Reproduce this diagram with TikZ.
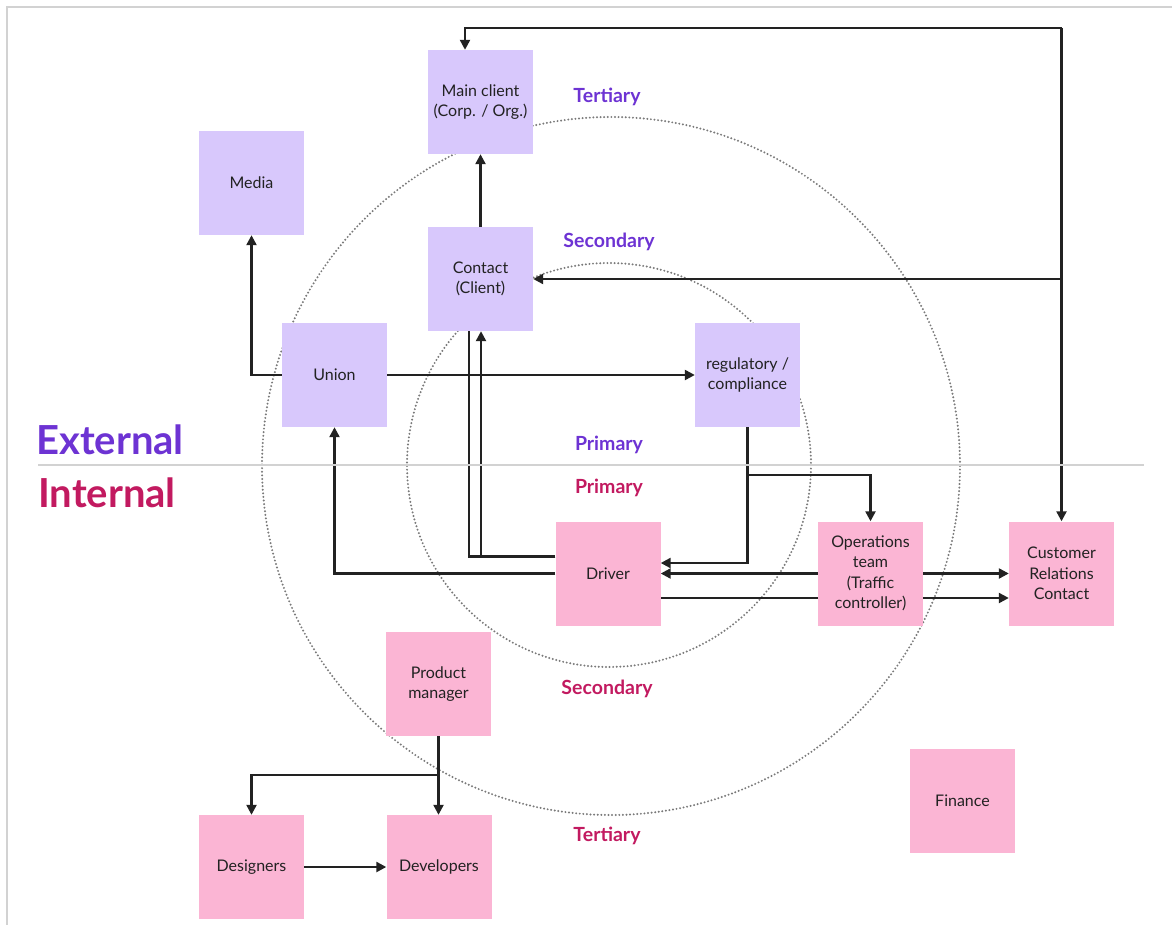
\documentclass[tikz,border=0pt]{standalone}
\usepackage{fontspec}
\setmainfont{Lato}
\usetikzlibrary{arrows.meta,backgrounds}
\definecolor{lav}{HTML}{D8C8FC}
\definecolor{pnk}{HTML}{FBB5D4}
\definecolor{extc}{HTML}{6D33D3}
\definecolor{intc}{HTML}{C21A60}
\definecolor{ink}{HTML}{222222}
\definecolor{ringc}{HTML}{7A7A7A}
\tikzset{
  box/.style={minimum width=105pt,minimum height=104pt,inner sep=0pt,align=center,
    font=\fontsize{16}{20.5}\selectfont,text=ink},
  ext/.style={box,fill=lav},
  int/.style={box,fill=pnk},
  conn/.style={draw=ink,line width=2.3pt},
  arr/.style={conn,-{Triangle[length=10pt,width=10pt]}},
  ring/.style={draw=ringc,line width=2.2pt,dash pattern=on 0pt off 3.6pt,line cap=round},
  lvlext/.style={font=\fontsize{19.5}{22}\bfseries\selectfont,text=extc},
  lvlint/.style={font=\fontsize{19.5}{22}\bfseries\selectfont,text=intc},
}
\begin{document}
\begin{tikzpicture}[x=1pt,y=-1pt]
\useasboundingbox (0,0) rectangle (1174,925);
\draw[gray!35,line width=1.5pt] (7,925) -- (7,7) -- (1172,7);
% separator
\draw[gray!35,line width=2pt] (38,465) -- (1144,465);
\node[font=\fontsize{40}{44}\bfseries\selectfont,text=extc] (external) at (110,440) {External};
\node[font=\fontsize{40}{44}\bfseries\selectfont,text=intc] (internal) at (107,493) {Internal};
% level labels
\node[lvlext] (t1) at (607,97) {Tertiary};
\node[lvlext] (s1) at (609,242) {Secondary};
\node[lvlext] (p1) at (609,445) {Primary};
\node[lvlint] (p2) at (609,488) {Primary};
\node[lvlint] (s2) at (607,689) {Secondary};
\node[lvlint] (t2) at (607,836) {Tertiary};
% boxes
\node[ext] (main) at (480.5,102) {Main client\\(Corp. / Org.)};
\node[ext] (media) at (251.5,183) {Media};
\node[ext] (contact) at (480.5,279) {Contact\\(Client)};
\node[ext] (union) at (334.5,375) {Union};
\node[ext] (reg) at (747.5,375) {regulatory /\\compliance};
\node[int] (driver) at (608,573.5) {Driver};
\node[int] (ops) at (870.5,573.5) {Operations\\team\\(Traffic\\controller)};
\node[int] (crc) at (1061.5,573.5) {Customer\\Relations\\Contact};
\node[int] (pm) at (438.5,684) {Product\\manager};
\node[int] (des) at (251.5,867) {Designers};
\node[int] (dev) at (439,867) {Developers};
\node[int] (fin) at (962.5,800.5) {Finance};
% helper coordinates
\coordinate (topR) at (1061.5,28);
\coordinate (topL) at (465,28);
\coordinate (busC) at (1061.5,279);
\coordinate (regJ) at (747.5,475);
\coordinate (pmJ) at (438.5,775);
\begin{pgfonlayer}{background}
\draw[ring] (611,466) circle[radius=349];
\draw[ring] (609,465) circle[radius=202];
% top bus
\draw[arr] (topR) -- (crc.north);
\draw[arr] (topR) -- (topL) -- (main.north -| topL);
\draw[arr] (busC) -- (contact.east);
% contact -> main
\draw[arr] (contact.north) -- (main.south);
% union -> media
\draw[arr] (union.west) -| (media.south);
% union -> regulatory
\draw[arr] (union.east) -- (reg.west);
% regulatory -> driver, ops
\draw[arr] (reg.south) |- ([yshift=10.5pt]driver.east);
\draw[arr] (regJ) -| (ops.north);
% ops -> driver
\draw[arr] (ops.west) -- (driver.east);
% ops -> crc
\draw[arr] (ops.east) -- (crc.west);
% driver -> crc (behind ops)
\draw[arr] ([yshift=-24.5pt]driver.east) -- ([yshift=-24.5pt]crc.west);
% driver -> contact
\draw[conn] ([yshift=17pt]driver.west) -| ([xshift=-11.5pt]contact.south);
\draw[arr] ([yshift=17pt]driver.west) -| ([xshift=0.5pt]contact.south);
% driver -> union
\draw[arr] (driver.west) -| (union.south);
% product manager
\draw[arr] (pm.south) -- (dev.north -| pm.south);
\draw[arr] (pmJ) -| (des.north);
% designers -> developers
\draw[arr] (des.east) -- (dev.west);
\end{pgfonlayer}
\end{tikzpicture}
\end{document}
